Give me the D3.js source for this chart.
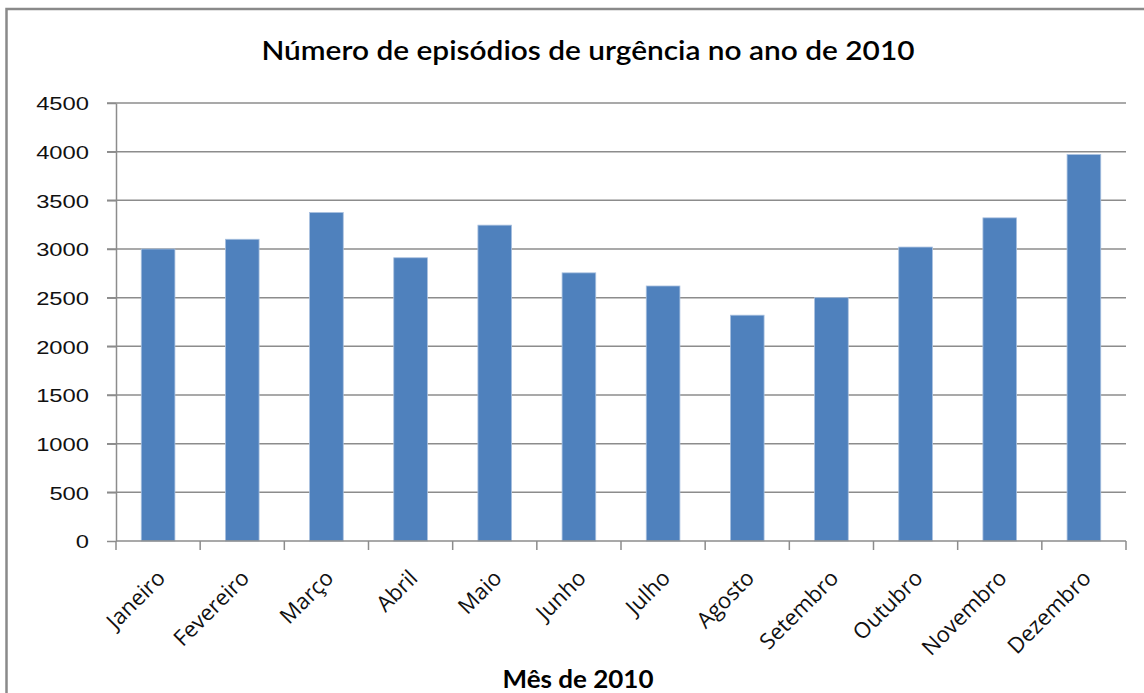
<!DOCTYPE html>
<html>
<head>
<meta charset="utf-8">
<script src="https://cdn.jsdelivr.net/npm/d3@7"></script>
<style>
  html, body { margin: 0; padding: 0; background: #fff; }
  svg { display: block; }
</style>
</head>
<body>
<div id="chart"></div>
<script>
const months = ['Janeiro', 'Fevereiro', 'Março', 'Abril', 'Maio', 'Junho',
  'Julho', 'Agosto', 'Setembro', 'Outubro', 'Novembro', 'Dezembro'];
const episodes = [3000, 3100, 3375, 2910, 3245, 2755, 2620, 2320, 2500, 3020, 3320, 3970];
const yTicks = [0, 500, 1000, 1500, 2000, 2500, 3000, 3500, 4000, 4500];
const titleText = 'Número de episódios de urgência no ano de 2010';
const xTitleText = 'Mês de 2010';

const width = 1144, height = 693;
const plotLeft = 116, plotRight = 1126, plotTop = 103, plotBottom = 541;

const svg = d3.select('#chart').append('svg')
  .attr('width', width)
  .attr('height', height);

// outer chart frame (only top/left visible)
svg.append('path')
  .attr('d', `M6.5,${height + 5}V9H${width + 5}`)
  .attr('fill', 'none')
  .attr('stroke', '#8a8a8a')
  .attr('stroke-width', 2.5);

const x = d3.scaleBand()
  .domain(months)
  .range([plotLeft, plotRight])
  .paddingInner(0.6)
  .paddingOuter(0.3);

const y = d3.scaleLinear()
  .domain([0, 4500])
  .range([plotBottom, plotTop]);

// gridlines
svg.append('g')
  .selectAll('line')
  .data(yTicks.filter(d => d > 0))
  .enter().append('line')
  .attr('x1', plotLeft - 9)
  .attr('x2', plotRight)
  .attr('y1', d => y(d))
  .attr('y2', d => y(d))
  .attr('stroke', '#8c8c8c')
  .attr('stroke-width', 1.5);

// bars
svg.append('g')
  .selectAll('rect')
  .data(episodes)
  .enter().append('rect')
  .attr('x', (d, i) => x(months[i]))
  .attr('width', x.bandwidth())
  .attr('y', d => y(d))
  .attr('height', d => y(0) - y(d))
  .attr('fill', '#4f81bd')
  .attr('stroke', '#a9c0df')
  .attr('stroke-width', 0.8);

// y axis
const yAxis = svg.append('g')
  .attr('transform', `translate(${plotLeft},0)`)
  .call(d3.axisLeft(y).tickValues(yTicks).tickSize(9).tickPadding(0).tickSizeOuter(0));
yAxis.select('.domain').attr('stroke', '#8c8c8c').attr('stroke-width', 1.5);
yAxis.selectAll('.tick line').attr('stroke', '#8c8c8c').attr('stroke-width', 1.5);
yAxis.selectAll('.tick text').remove();
yAxis.selectAll('.tick').append('g')
  .attr('transform', 'translate(-27,0) scale(1.25,1)')
  .append('text')
  .attr('text-anchor', 'end')
  .attr('dy', '0.36em')
  .attr('fill', '#111')
  .style('font-family', '"Liberation Sans", Arial, sans-serif')
  .style('font-size', '19px')
  .text(d => d);

// x axis: ticks at band boundaries
const bounds = months.map(m => x(m) - x.step() * x.paddingInner() / 2);
bounds.push(plotRight);
const xg = svg.append('g');
xg.append('line')
  .attr('x1', plotLeft).attr('x2', plotRight)
  .attr('y1', plotBottom).attr('y2', plotBottom)
  .attr('stroke', '#8c8c8c').attr('stroke-width', 1.5);
xg.selectAll('line.tick')
  .data(bounds)
  .enter().append('line')
  .attr('class', 'tick')
  .attr('x1', d => d).attr('x2', d => d)
  .attr('y1', plotBottom).attr('y2', plotBottom + 9)
  .attr('stroke', '#8c8c8c').attr('stroke-width', 1.5);

xg.selectAll('text')
  .data(months)
  .enter().append('text')
  .attr('transform', d => `translate(${x(d) + x.bandwidth() / 2 + 3},${plotBottom + 33}) rotate(-45)`)
  .attr('text-anchor', 'end')
  .attr('dy', '0.35em')
  .attr('fill', '#111')
  .style('font-family', '"Open Sans", sans-serif')
  .style('font-size', '22px')
  .text(d => d);

// titles
svg.append('text')
  .attr('x', 588)
  .attr('y', 60)
  .attr('text-anchor', 'middle')
  .attr('textLength', 653)
  .attr('lengthAdjust', 'spacingAndGlyphs')
  .style('font-family', 'Lato, sans-serif')
  .style('font-weight', '600')
  .style('font-size', '27px')
  .text(titleText);

svg.append('text')
  .attr('x', 578)
  .attr('y', 688)
  .attr('text-anchor', 'middle')
  .attr('textLength', 151)
  .attr('lengthAdjust', 'spacingAndGlyphs')
  .style('font-family', 'Lato, sans-serif')
  .style('font-weight', 'bold')
  .style('font-size', '24px')
  .text(xTitleText);
</script>
</body>
</html>
